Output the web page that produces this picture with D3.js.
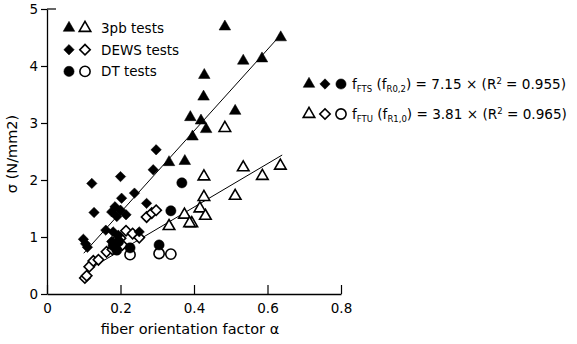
<!DOCTYPE html>
<html>
<head>
<meta charset="utf-8">
<script src="https://cdn.jsdelivr.net/npm/d3@7"></script>
<style>
body { margin: 0; background: #fff; }
svg text { font-family: "DejaVu Sans", sans-serif; fill: #000; }
</style>
</head>
<body>
<svg width="577" height="344"></svg>
<script>
// ---- data ----
var xTicks = [0, 0.2, 0.4, 0.6, 0.8];
var yTicks = [0, 1, 2, 3, 4, 5];

// 3pb tests
var pbFtsA = [0.484, 0.636, 0.534, 0.585, 0.428, 0.426, 0.512, 0.39, 0.419, 0.433, 0.396, 0.332, 0.375];
var pbFtsS = [4.69, 4.50, 4.09, 4.13, 3.84, 3.46, 3.21, 3.10, 3.04, 2.89, 2.76, 2.31, 2.33];
var pbFtuA = [0.484, 0.427, 0.534, 0.586, 0.635, 0.427, 0.512, 0.416, 0.431, 0.374, 0.394, 0.388, 0.332];
var pbFtuS = [2.91, 2.06, 2.22, 2.07, 2.25, 1.70, 1.72, 1.50, 1.37, 1.39, 1.24, 1.24, 1.19];

// DEWS tests
var dewsFtsA = [0.122, 0.2, 0.289, 0.297, 0.128, 0.238, 0.271, 0.203, 0.185, 0.176, 0.19, 0.2, 0.215, 0.099, 0.11, 0.16, 0.18, 0.194, 0.251, 0.176, 0.105];
var dewsFtsS = [1.94, 2.06, 2.18, 2.53, 1.43, 1.77, 1.59, 1.68, 1.53, 1.44, 1.36, 1.47, 1.39, 0.96, 0.82, 1.12, 1.09, 1.03, 1.09, 0.92, 0.88];
var dewsFtuA = [0.103, 0.108, 0.115, 0.126, 0.14, 0.162, 0.178, 0.19, 0.2, 0.205, 0.215, 0.233, 0.251, 0.271, 0.285, 0.297];
var dewsFtuS = [0.28, 0.32, 0.48, 0.58, 0.60, 0.74, 0.78, 0.95, 0.98, 0.86, 1.11, 1.06, 0.99, 1.35, 1.42, 1.47];

// DT tests
var dtFtsA = [0.367, 0.337, 0.305, 0.226, 0.18, 0.19, 0.195];
var dtFtsS = [1.95, 1.46, 0.86, 0.81, 0.85, 0.77, 0.92];
var dtFtuA = [0.226, 0.305, 0.337];
var dtFtuS = [0.69, 0.71, 0.70];

// regressions through origin
var slopeFts = 7.15, slopeFtu = 3.81;
var fitFtsRange = [0.1, 0.636];
var fitFtuRange = [0.11, 0.64];

var svg = d3.select("svg");

var x = d3.scaleLinear().domain([0, 0.8]).range([47, 341]);
var y = d3.scaleLinear().domain([0, 5]).range([294, 9]);

// ---- axes ----
var xAxis = svg.append("g")
    .attr("transform", "translate(0," + y(0) + ")")
    .call(d3.axisBottom(x).tickValues(xTicks).tickSizeInner(-9).tickSizeOuter(0)
        .tickFormat(function (d) { return d === 0 ? "0" : d3.format(".1f")(d); }));
xAxis.selectAll("text").attr("y", 9).style("font-size", "13.5px");

var yAxis = svg.append("g")
    .attr("transform", "translate(" + x(0) + ",0)")
    .call(d3.axisLeft(y).tickValues(yTicks).tickSize(6).tickSizeOuter(0).tickFormat(d3.format("d")));
yAxis.selectAll("text").attr("x", -9).style("font-size", "13.5px");

svg.selectAll(".domain").attr("stroke", "#000").attr("stroke-width", 1.3);
svg.selectAll(".tick line").attr("stroke", "#000").attr("stroke-width", 1.2);

// small stub at the top of the y axis
svg.append("line")
    .attr("x1", x(0)).attr("x2", x(0) + 9)
    .attr("y1", y(5)).attr("y2", y(5))
    .attr("stroke", "#000").attr("stroke-width", 1.2);

svg.append("text")
    .attr("x", 190).attr("y", 334)
    .attr("text-anchor", "middle")
    .style("font-size", "14.5px")
    .text("fiber orientation factor α");

svg.append("text")
    .attr("transform", "translate(17," + 154 + ") rotate(-90)")
    .attr("text-anchor", "middle")
    .style("font-size", "14.5px")
    .text("σ (N/mm2)");

// ---- fit lines ----
function fitLine(slope, range) {
    svg.append("line")
        .attr("x1", x(range[0])).attr("y1", y(slope * range[0]))
        .attr("x2", x(range[1])).attr("y2", y(slope * range[1]))
        .attr("stroke", "#000").attr("stroke-width", 1);
}
fitLine(slopeFts, fitFtsRange);
fitLine(slopeFtu, fitFtuRange);

// ---- markers ----
var triPath = d3.symbol().type(d3.symbolTriangle).size(58)();
var diaPath = d3.symbol().type(d3.symbolSquare).size(54)();
var cirPath = d3.symbol().type(d3.symbolCircle).size(82)();

function drawSeries(as, ss, path, filled, rot) {
    svg.append("g").selectAll("path")
        .data(d3.zip(as, ss))
        .enter()
        .append("path")
        .attr("d", path)
        .attr("transform", function (d) {
            return "translate(" + x(d[0]) + "," + y(d[1]) + ")" + (rot ? " rotate(45)" : "");
        })
        .attr("fill", filled ? "#000" : "#fff")
        .attr("stroke", "#000")
        .attr("stroke-width", filled ? 0.5 : 1.6);
}
drawSeries(dewsFtuA, dewsFtuS, diaPath, false, true);
drawSeries(dtFtuA, dtFtuS, cirPath, false, false);
drawSeries(pbFtuA, pbFtuS, triPath, false, false);
drawSeries(dewsFtsA, dewsFtsS, diaPath, true, true);
drawSeries(dtFtsA, dtFtsS, cirPath, true, false);
drawSeries(pbFtsA, pbFtsS, triPath, true, false);

// ---- legend (top left) ----
var legendNames = ["3pb tests", "DEWS tests", "DT tests"];
var legendPaths = [[triPath, false], [diaPath, true], [cirPath, false]];
legendNames.forEach(function (name, i) {
    var ly = 28 + i * 21.7;
    [true, false].forEach(function (filled, j) {
        svg.append("path")
            .attr("d", legendPaths[i][0])
            .attr("transform", "translate(" + (69 + j * 16) + "," + ly + ")" + (legendPaths[i][1] ? " rotate(45)" : ""))
            .attr("fill", filled ? "#000" : "#fff")
            .attr("stroke", "#000")
            .attr("stroke-width", filled ? 0.5 : 1.6);
    });
    svg.append("text")
        .attr("x", 101).attr("y", ly + 5)
        .style("font-size", "13.5px")
        .text(name);
});

// ---- legend (right, fit equations) ----
var eqRows = [
    { filled: true, y: 84, sub1: "FTS", sub2: "R0,2", k: "7.15", r2: "0.955" },
    { filled: false, y: 114, sub1: "FTU", sub2: "R1,0", k: "3.81", r2: "0.965" }
];
eqRows.forEach(function (r) {
    [[triPath, false], [diaPath, true], [cirPath, false]].forEach(function (p, j) {
        svg.append("path")
            .attr("d", p[0])
            .attr("transform", "translate(" + (309 + j * 16) + "," + r.y + ")" + (p[1] ? " rotate(45)" : ""))
            .attr("fill", r.filled ? "#000" : "#fff")
            .attr("stroke", "#000")
            .attr("stroke-width", r.filled ? 0.5 : 1.6);
    });
    var t = svg.append("text")
        .attr("x", 352).attr("y", r.y + 5)
        .style("font-size", "13.6px");
    t.append("tspan").text("f");
    t.append("tspan").attr("dy", 3).style("font-size", "8.5px").text(r.sub1);
    t.append("tspan").attr("dy", -3).text(" (f");
    t.append("tspan").attr("dy", 3).style("font-size", "8.5px").text(r.sub2);
    t.append("tspan").attr("dy", -3).text(") = " + r.k + " × (R");
    t.append("tspan").attr("dy", -5).style("font-size", "8.5px").text("2");
    t.append("tspan").attr("dy", 5).text(" = " + r.r2 + ")");
});
</script>
</body>
</html>
